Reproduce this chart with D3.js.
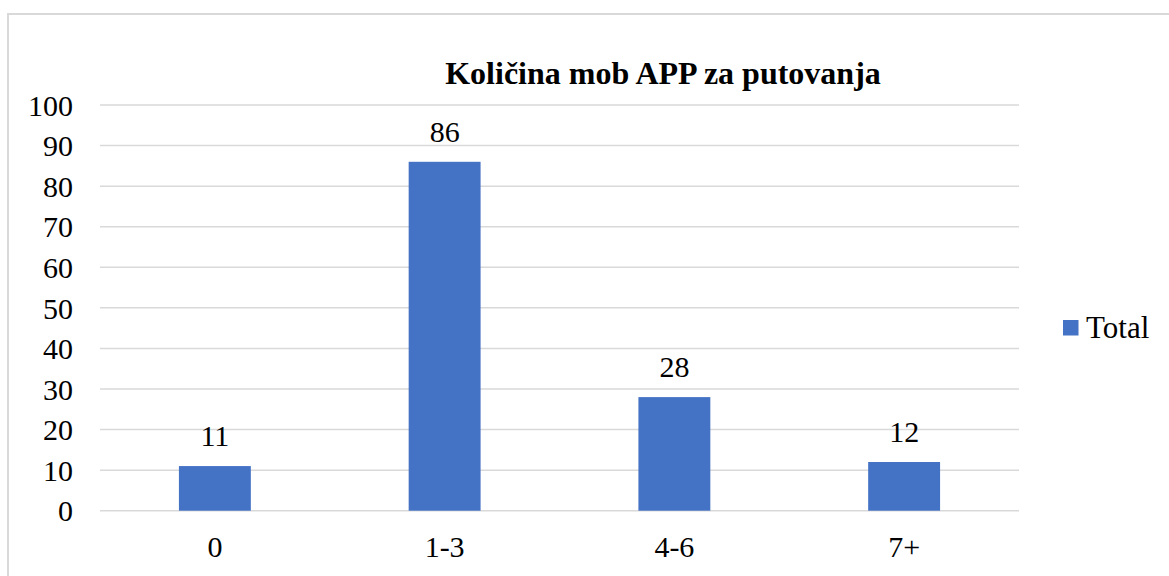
<!DOCTYPE html>
<html>
<head>
<meta charset="utf-8">
<script src="https://d3js.org/d3.v7.min.js"></script>
<style>
  body { margin: 0; background: #fff; }
</style>
</head>
<body>
<svg id="chart" width="1169" height="576"></svg>
<script>
// data
var categories = ["0", "1-3", "4-6", "7+"]
var totals = [11, 86, 28, 12]
var yTicks = [0, 10, 20, 30, 40, 50, 60, 70, 80, 90, 100]
var seriesName = "Total"
var title = "Količina mob APP za putovanja"

var serif = "'Liberation Serif', 'Times New Roman', serif"
var svg = d3.select("#chart").style("font-family", serif)
var barColor = "#4472c4"
var gridColor = "#d9d9d9"

// outer frame (right and bottom run off the picture)
svg.append("rect")
  .attr("x", 8).attr("y", 14)
  .attr("width", 1200).attr("height", 600)
  .attr("fill", "none")
  .attr("stroke", gridColor)
  .attr("stroke-width", 2)

var x = d3.scaleBand()
  .domain(categories)
  .range([100, 1019])
  .paddingInner(0.687)
  .paddingOuter(0.3435)

var y = d3.scaleLinear()
  .domain([0, 100])
  .range([510.7, 105])

// gridlines
svg.append("g")
  .selectAll("line")
  .data(yTicks)
  .enter().append("line")
    .attr("x1", 100).attr("x2", 1019)
    .attr("y1", function (d) { return y(d) })
    .attr("y2", function (d) { return y(d) })
    .attr("stroke", gridColor)
    .attr("stroke-width", 1.5)

// y axis labels
var yAxis = d3.axisLeft(y).tickValues(yTicks).tickSize(0).tickPadding(0)
var yg = svg.append("g").attr("transform", "translate(73,0)").call(yAxis)
yg.select(".domain").remove()
yg.attr("font-family", null).attr("font-size", null)
yg.selectAll("text")
  .style("font-family", serif)
  .style("font-size", "30px")
  .attr("fill", "#000")
  .attr("dy", "0.34em")

// x axis labels
var xAxis = d3.axisBottom(x).tickSize(0).tickPadding(0)
var xg = svg.append("g").attr("transform", "translate(0,536)").call(xAxis)
xg.select(".domain").remove()
xg.attr("font-family", null).attr("font-size", null)
xg.selectAll("text")
  .style("font-family", serif)
  .style("font-size", "30px")
  .attr("fill", "#000")
  .attr("dy", "0.71em")

// bars
svg.append("g")
  .selectAll("rect")
  .data(totals)
  .enter().append("rect")
    .attr("x", function (d, i) { return x(categories[i]) })
    .attr("y", function (d) { return y(d) })
    .attr("width", x.bandwidth())
    .attr("height", function (d) { return y(0) - y(d) })
    .attr("fill", barColor)

// value labels
svg.append("g")
  .selectAll("text")
  .data(totals)
  .enter().append("text")
    .attr("x", function (d, i) { return x(categories[i]) + x.bandwidth() / 2 })
    .attr("y", function (d) { return y(d) - 20 })
    .attr("text-anchor", "middle")
    .style("font-family", serif)
    .style("font-size", "30px")
    .text(function (d) { return d })

// title
svg.append("text")
  .attr("x", 663).attr("y", 84)
  .attr("text-anchor", "middle")
  .style("font-family", serif)
  .style("font-size", "32px")
  .style("font-weight", "bold")
  .text(title)

// legend
var legend = svg.append("g")
legend.append("rect")
  .attr("x", 1063).attr("y", 320)
  .attr("width", 15.5).attr("height", 15.5)
  .attr("fill", barColor)
legend.append("text")
  .attr("x", 1086).attr("y", 338)
  .style("font-family", serif)
  .style("font-size", "31px")
  .text(seriesName)
</script>
</body>
</html>
